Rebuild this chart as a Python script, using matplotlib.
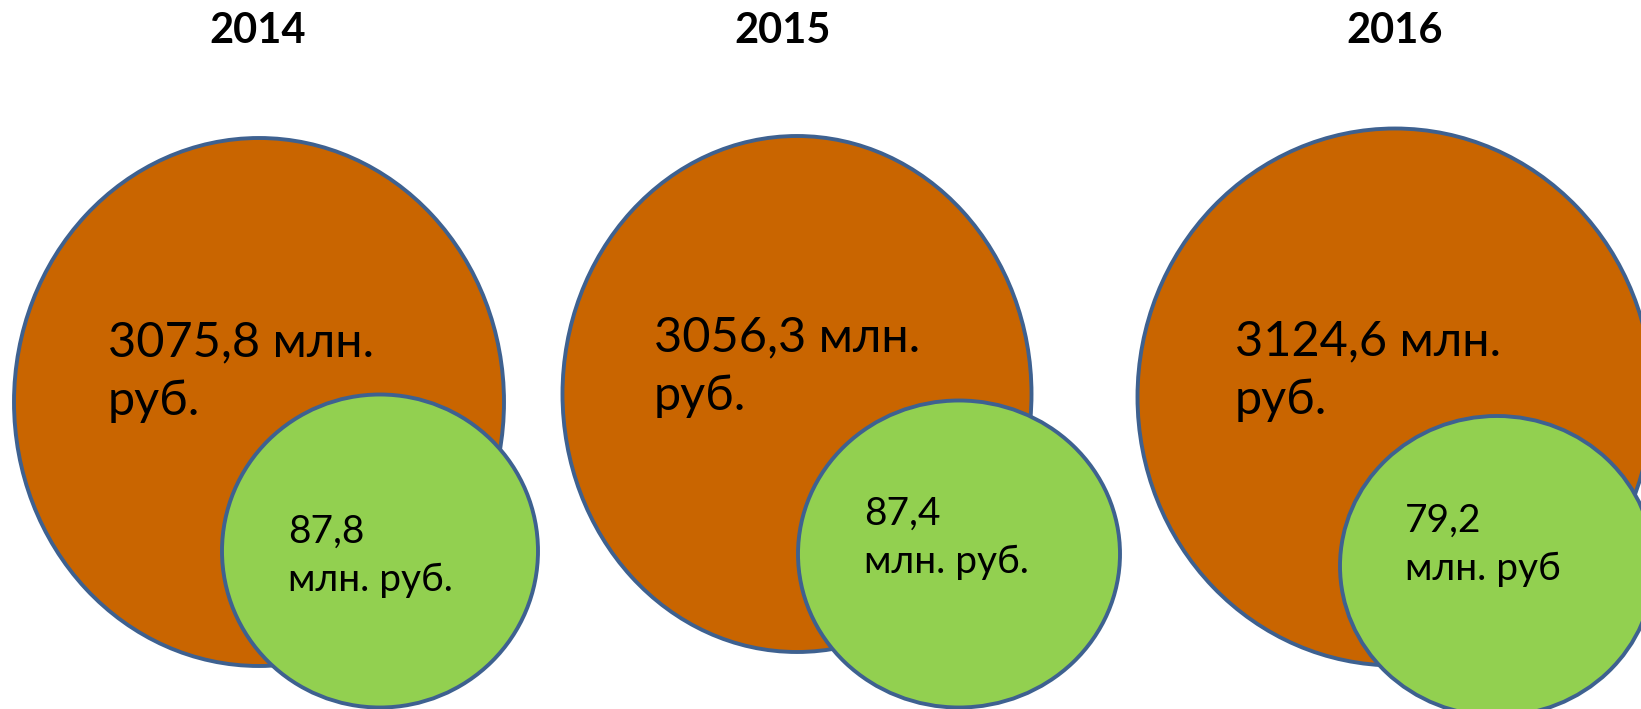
import matplotlib.pyplot as plt
from matplotlib.patches import Ellipse


years = ["2014", "2015", "2016"]
total_values = ["3075,8", "3056,3", "3124,6"]
part_values = ["87,8", "87,4", "79,2"]
part_units = ["млн. руб.", "млн. руб.", "млн. руб"]

# layout in pixels (x, y, width, height), y measured from top
big_shapes = [(259, 402, 490, 528), (797, 394, 469, 516), (1395, 397, 515, 537)]
small_shapes = [(380, 551, 316, 313), (959, 554, 322, 307), (1497, 566, 314, 300)]
title_x = [258, 783, 1395]
big_text_pos = [(108, 356), (654, 351), (1235, 355)]
small_text_pos = [(288, 543), (864, 525), (1405, 532)]

ORANGE = "#C96500"
GREEN = "#92D050"
EDGE = "#3E6190"

plt.rcParams["font.family"] = ["Lato", "DejaVu Sans"]

fig = plt.figure(figsize=(16.41, 7.09), dpi=100)
ax = fig.add_axes([0, 0, 1, 1])
ax.set_xlim(0, 1641)
ax.set_ylim(709, 0)
ax.axis("off")

for i, year in enumerate(years):
    x, y, w, h = big_shapes[i]
    ax.add_patch(Ellipse((x, y), w, h, facecolor=ORANGE, edgecolor=EDGE, linewidth=2.8, zorder=1))
    x, y, w, h = small_shapes[i]
    ax.add_patch(Ellipse((x, y), w, h, facecolor=GREEN, edgecolor=EDGE, linewidth=2.8, zorder=2))

    ax.text(title_x[i], 31, year, ha="center", va="center", fontsize=30, fontweight="bold")

    bx, by = big_text_pos[i]
    ax.text(bx, by, total_values[i] + " млн.", ha="left", va="baseline", fontsize=35, zorder=3)
    ax.text(bx, by + 59, "руб.", ha="left", va="baseline", fontsize=35, zorder=3)

    sx, sy = small_text_pos[i]
    ax.text(sx, sy, part_values[i], ha="left", va="baseline", fontsize=28, zorder=3)
    ax.text(sx, sy + 48, part_units[i], ha="left", va="baseline", fontsize=28, zorder=3)

fig.savefig("out.png", dpi=100)
